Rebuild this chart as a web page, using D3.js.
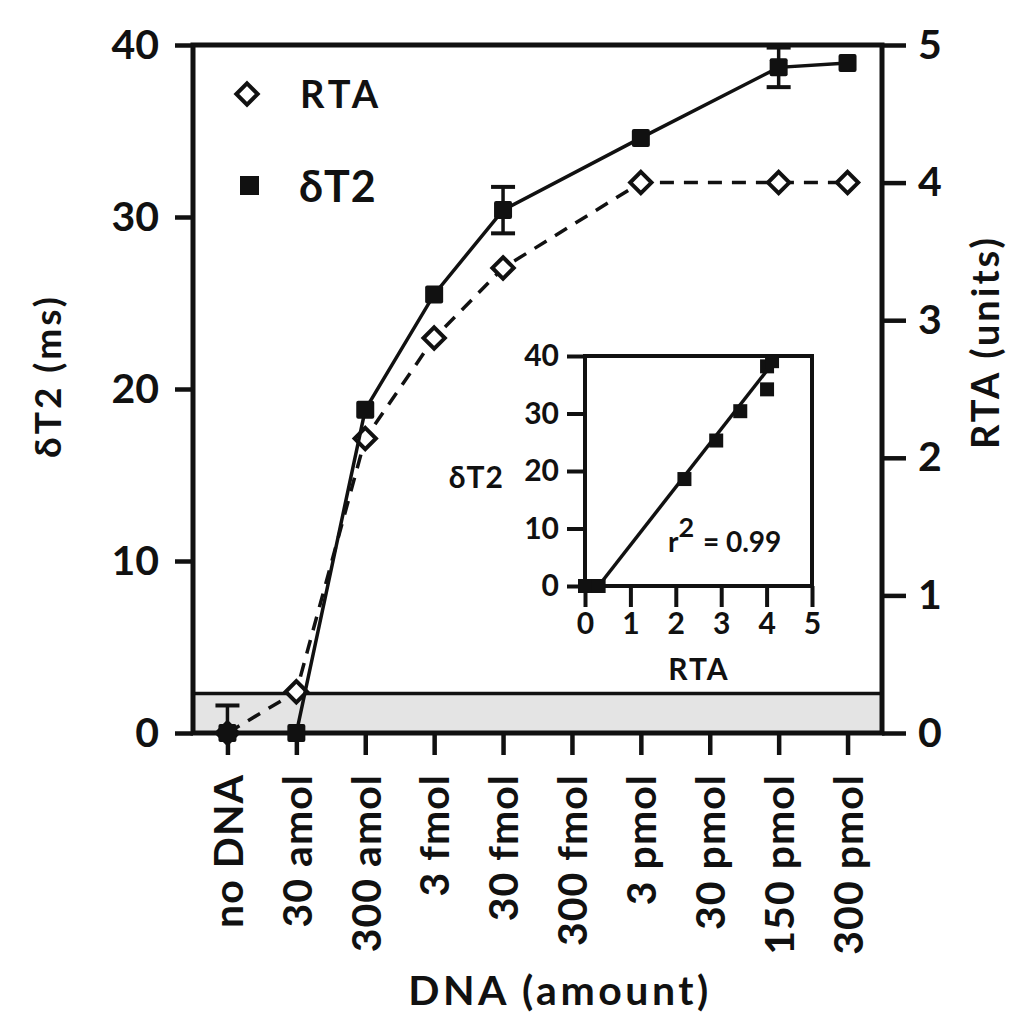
<!DOCTYPE html>
<html>
<head>
<meta charset="utf-8">
<script src="https://cdn.jsdelivr.net/npm/d3@7/dist/d3.min.js"></script>
<style>
  body { margin: 0; background: #fff; }
  text { font-family: Lato, "Open Sans", sans-serif; font-weight: 700; fill: #111; }
</style>
</head>
<body>
<script>
// data
var categories = ["no DNA", "30 amol", "300 amol", "3 fmol", "30 fmol", "300 fmol", "3 pmol", "30 pmol", "150 pmol", "300 pmol"];
var dT2    = [0, 0, 18.8, 25.5, 30.4, null, 34.6, null, 38.7, 38.95];
var dT2Err = [1.6, 0, 0, 0, 1.35, null, 0, null, 1.15, 0];
var rta    = [0, 0.3, 2.14, 2.87, 3.38, null, 4.0, null, 4.0, 4.0];
var leftTicks = [0, 10, 20, 30, 40];
var rightTicks = [0, 1, 2, 3, 4, 5];
var bandLevel = 2.3;   // shaded background band (ms)

// inset: dT2 vs RTA
var insetRta = [0, 0.3, 2.19, 2.89, 3.42, 4.01, 4.01, 4.12];
var insetDT2 = [0, 0, 18.6, 25.3, 30.4, 34.2, 38.2, 39.1];
var insetXTicks = [0, 1, 2, 3, 4, 5];
var insetYTicks = [0, 10, 20, 30, 40];
var fitSlope = 10.1, fitIntercept = -3.0;

var W = 1024, H = 1033;
var m = {left: 193, right: 882, top: 45, bottom: 733};

var svg = d3.select("body").append("svg")
    .attr("width", W).attr("height", H);
svg.append("rect").attr("width", W).attr("height", H).attr("fill", "#fff");

var x = d3.scalePoint().domain(categories).range([m.left, m.right]).padding(0.5);
var yL = d3.scaleLinear().domain([0, 40]).range([m.bottom, m.top]);
var yR = d3.scaleLinear().domain([0, 5]).range([m.bottom, m.top]);

// gray band
svg.append("rect")
    .attr("x", m.left).attr("y", yL(bandLevel))
    .attr("width", m.right - m.left).attr("height", m.bottom - yL(bandLevel))
    .attr("fill", "#e4e4e4");
svg.append("line")
    .attr("x1", m.left).attr("x2", m.right)
    .attr("y1", yL(bandLevel)).attr("y2", yL(bandLevel))
    .attr("stroke", "#111").attr("stroke-width", 3.5);

// axes
var axL = svg.append("g").attr("transform", "translate(" + m.left + ",0)")
    .call(d3.axisLeft(yL).tickValues(leftTicks).tickSize(18).tickPadding(16));
var axR = svg.append("g").attr("transform", "translate(" + m.right + ",0)")
    .call(d3.axisRight(yR).tickValues(rightTicks).tickFormat(d3.format("d")).tickSize(24).tickPadding(12));
var axB = svg.append("g").attr("transform", "translate(0," + m.bottom + ")")
    .call(d3.axisBottom(x).tickSize(22));

[axL, axR, axB].forEach(function(a) {
  a.select(".domain").remove();
  a.selectAll(".tick line").attr("stroke", "#111").attr("stroke-width", 4.5);
  a.selectAll(".tick text").attr("font-size", 41).attr("fill", "#111");
});
axB.selectAll(".tick text")
    .attr("transform", "rotate(-90)")
    .attr("x", -41).attr("y", 0).attr("dy", "0.36em")
    .attr("font-size", 41).attr("letter-spacing", 1)
    .style("text-anchor", "end");

// frame
svg.append("rect")
    .attr("x", m.left).attr("y", m.top)
    .attr("width", m.right - m.left).attr("height", m.bottom - m.top)
    .attr("fill", "none").attr("stroke", "#111").attr("stroke-width", 5);

// axis titles
svg.append("text").attr("transform", "translate(61,376) rotate(-90)")
    .attr("text-anchor", "middle").attr("font-size", 37).attr("letter-spacing", 3).text("δT2 (ms)");
svg.append("text").attr("transform", "translate(999,342) rotate(-90)")
    .attr("text-anchor", "middle").attr("font-size", 38).attr("letter-spacing", 3).text("RTA (units)");
svg.append("text").attr("x", 560).attr("y", 1005)
    .attr("text-anchor", "middle").attr("font-size", 41).attr("letter-spacing", 3.5).text("DNA (amount)");

// series
var rtaPts = categories.map(function(c, i) { return {c: c, v: rta[i]}; }).filter(function(d) { return d.v != null; });
var dPts = categories.map(function(c, i) { return {c: c, v: dT2[i], e: dT2Err[i]}; }).filter(function(d) { return d.v != null; });

svg.append("path").datum(rtaPts)
    .attr("fill", "none").attr("stroke", "#111").attr("stroke-width", 3.5)
    .attr("stroke-dasharray", "14,10")
    .attr("d", d3.line().x(function(d) { return x(d.c); }).y(function(d) { return yR(d.v); }));

var diamond = d3.symbol().type(d3.symbolDiamond2).size(290);
svg.selectAll(".dia").data(rtaPts).enter().append("path")
    .attr("transform", function(d) { return "translate(" + x(d.c) + "," + yR(d.v) + ")"; })
    .attr("d", diamond)
    .attr("fill", "#fff").attr("stroke", "#111").attr("stroke-width", 4);

svg.append("path").datum(dPts)
    .attr("fill", "none").attr("stroke", "#111").attr("stroke-width", 3.5)
    .attr("d", d3.line().x(function(d) { return x(d.c); }).y(function(d) { return yL(d.v); }));

// error bars
var eb = svg.selectAll(".eb").data(dPts.filter(function(d) { return d.e > 0; })).enter().append("g");
eb.append("line")
    .attr("x1", function(d) { return x(d.c); }).attr("x2", function(d) { return x(d.c); })
    .attr("y1", function(d) { return yL(d.v + d.e); }).attr("y2", function(d) { return yL(Math.max(0, d.v - d.e)); })
    .attr("stroke", "#111").attr("stroke-width", 3.5);
eb.append("line")
    .attr("x1", function(d) { return x(d.c) - 12; }).attr("x2", function(d) { return x(d.c) + 12; })
    .attr("y1", function(d) { return yL(d.v + d.e); }).attr("y2", function(d) { return yL(d.v + d.e); })
    .attr("stroke", "#111").attr("stroke-width", 4);
eb.filter(function(d) { return d.v - d.e > 0; }).append("line")
    .attr("x1", function(d) { return x(d.c) - 12; }).attr("x2", function(d) { return x(d.c) + 12; })
    .attr("y1", function(d) { return yL(d.v - d.e); }).attr("y2", function(d) { return yL(d.v - d.e); })
    .attr("stroke", "#111").attr("stroke-width", 4);

svg.selectAll(".sq").data(dPts).enter().append("rect")
    .attr("x", function(d) { return x(d.c) - 9; })
    .attr("y", function(d) { return yL(d.v) - 9; })
    .attr("width", 18).attr("height", 18).attr("rx", 2)
    .attr("fill", "#111");

// legend
svg.append("path").attr("transform", "translate(247,94)").attr("d", diamond)
    .attr("fill", "#fff").attr("stroke", "#111").attr("stroke-width", 4);
svg.append("text").attr("x", 300).attr("y", 108).attr("font-size", 38)
    .attr("letter-spacing", 4).text("RTA");
svg.append("rect").attr("x", 240).attr("y", 176).attr("width", 19).attr("height", 19).attr("fill", "#111");
svg.append("text").attr("x", 299).attr("y", 202).attr("font-size", 43).attr("letter-spacing", 1).text("δT2");

// inset
var ix = d3.scaleLinear().domain([0, 5]).range([585, 812]);
var iy = d3.scaleLinear().domain([0, 40]).range([586, 356]);
var inset = svg.append("g");
inset.append("rect").attr("x", 585).attr("y", 356).attr("width", 227).attr("height", 230).attr("fill", "#fff");

var iax = inset.append("g").attr("transform", "translate(0,586)")
    .call(d3.axisBottom(ix).tickValues(insetXTicks).tickFormat(d3.format("d")).tickSize(21).tickPadding(6));
var iay = inset.append("g").attr("transform", "translate(585,0)")
    .call(d3.axisLeft(iy).tickValues(insetYTicks).tickFormat(d3.format("d")).tickSize(18).tickPadding(8));
[iax, iay].forEach(function(a) {
  a.select(".domain").remove();
  a.selectAll(".tick line").attr("stroke", "#111").attr("stroke-width", 4);
  a.selectAll(".tick text").attr("font-size", 30).attr("fill", "#111");
});
inset.append("rect").attr("x", 585).attr("y", 356).attr("width", 227).attr("height", 230)
    .attr("fill", "none").attr("stroke", "#111").attr("stroke-width", 4);

inset.append("line")
    .attr("x1", ix(-fitIntercept / fitSlope)).attr("y1", iy(0))
    .attr("x2", ix((40 - fitIntercept) / fitSlope)).attr("y2", iy(40))
    .attr("stroke", "#111").attr("stroke-width", 3.5);

inset.selectAll(".isq").data(insetRta).enter().append("rect")
    .attr("x", function(d) { return ix(d) - 7; })
    .attr("y", function(d, i) { return iy(insetDT2[i]) - 7; })
    .attr("width", 14).attr("height", 14).attr("fill", "#111");

inset.append("text").attr("x", 504).attr("y", 488).attr("text-anchor", "end")
    .attr("font-size", 30).attr("letter-spacing", 1).text("δT2");
inset.append("text").attr("x", 699).attr("y", 680).attr("text-anchor", "middle")
    .attr("font-size", 30).attr("letter-spacing", 2).text("RTA");
var r2 = inset.append("text").attr("x", 668).attr("y", 552).attr("font-size", 28);
r2.append("tspan").text("r");
r2.append("tspan").attr("dy", -15).attr("font-size", 27).text("2");
r2.append("tspan").attr("dy", 15).attr("dx", 2).text(" = 0.99");
</script>
</body>
</html>
